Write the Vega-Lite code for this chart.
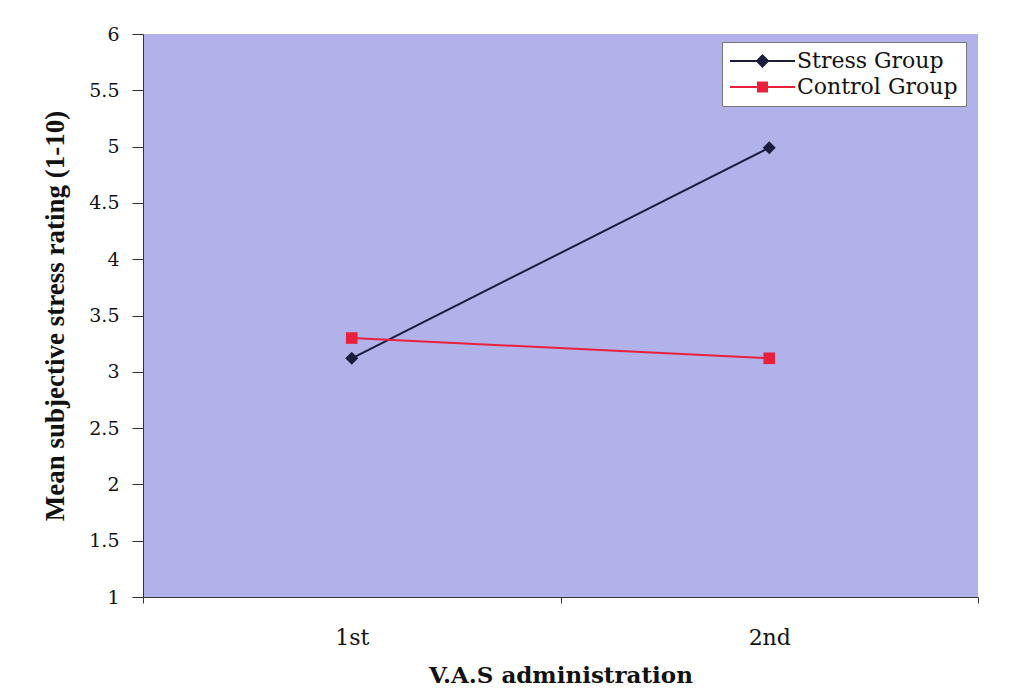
{
  "$schema": "https://vega.github.io/schema/vega-lite/v6.json",
  "width": 835,
  "height": 563,
  "autosize": {"type": "none"},
  "padding": {"left": 143, "top": 34, "right": 34, "bottom": 98},
  "background": "white",
  "config": {
    "font": "Liberation Serif",
    "view": {"fill": "#b1b2ea", "stroke": null}
  },
  "data": {
    "values": [
      {"admin": "1st", "group": "Stress Group", "rating": 3.12},
      {"admin": "2nd", "group": "Stress Group", "rating": 4.99},
      {"admin": "1st", "group": "Control Group", "rating": 3.30},
      {"admin": "2nd", "group": "Control Group", "rating": 3.12}
    ]
  },
  "encoding": {
    "x": {
      "field": "admin",
      "type": "nominal",
      "scale": {"paddingInner": 0, "paddingOuter": 0},
      "axis": {
        "title": "V.A.S administration",
        "titleFont": "DejaVu Serif",
        "titleFontSize": 23,
        "titleFontWeight": "bold",
        "titleColor": "#111",
        "titlePadding": 16,
        "labelFont": "DejaVu Serif",
        "labelFontSize": 22,
        "labelColor": "#111",
        "labelAngle": 0,
        "labelPadding": 24,
        "tickBand": "extent",
        "tickColor": "#333",
        "domainColor": "#333",
        "tickSize": 6,
        "grid": false
      }
    },
    "y": {
      "field": "rating",
      "type": "quantitative",
      "scale": {"domain": [1, 6], "nice": false, "zero": false},
      "axis": {
        "title": "Mean subjective stress rating (1-10)",
        "titleFontSize": 27,
        "titleFontWeight": "bold",
        "titleColor": "#111",
        "titlePadding": 19,
        "labelFont": "DejaVu Serif",
        "labelFontSize": 19,
        "labelColor": "#111",
        "labelPadding": 13,
        "format": "~g",
        "values": [1, 1.5, 2, 2.5, 3, 3.5, 4, 4.5, 5, 5.5, 6],
        "tickColor": "#333",
        "domainColor": "#333",
        "tickSize": 11,
        "grid": false
      }
    }
  },
  "layer": [
    {
      "transform": [{"filter": "datum.rating > 100"}],
      "mark": {"type": "point", "filled": true, "opacity": 1, "strokeWidth": 2},
      "encoding": {
        "color": {
          "field": "group",
          "type": "nominal",
          "scale": {"domain": ["Stress Group", "Control Group"], "range": ["#1c1c3c", "#e8203c"]},
          "legend": {
            "title": null,
            "orient": "none",
            "legendX": 579,
            "legendY": 8,
            "fillColor": "white",
            "strokeColor": "#777",
            "padding": 8,
            "labelFont": "DejaVu Serif",
            "labelFontSize": 22,
            "labelColor": "#111",
            "labelLimit": 300,
            "symbolSize": 400,
            "symbolStrokeWidth": 2,
            "rowPadding": 4,
            "labelOffset": 45
          }
        },
        "stroke": {
          "field": "group",
          "type": "nominal",
          "scale": {"domain": ["Stress Group", "Control Group"], "range": ["#1c1c3c", "#e8203c"]}
        },
        "shape": {
          "field": "group",
          "type": "nominal",
          "scale": {
            "domain": ["Stress Group", "Control Group"],
            "range": [
              "M-1.1,0L5.4,0M2.15,-0.55L2.7,0L2.15,0.55L1.6,0Z",
              "M-1.1,0L5.4,0M1.7,-0.45L2.6,-0.45L2.6,0.45L1.7,0.45Z"
            ]
          }
        }
      }
    },
    {
      "mark": {"type": "line", "strokeWidth": 2},
      "encoding": {
        "stroke": {"field": "group", "type": "nominal"}
      }
    },
    {
      "transform": [{"filter": "datum.group === 'Stress Group'"}],
      "mark": {"type": "point", "shape": "diamond", "filled": true, "opacity": 1, "size": 170},
      "encoding": {
        "color": {"field": "group", "type": "nominal"}
      }
    },
    {
      "transform": [{"filter": "datum.group === 'Control Group'"}],
      "mark": {"type": "point", "shape": "square", "filled": true, "opacity": 1, "size": 135},
      "encoding": {
        "color": {"field": "group", "type": "nominal"}
      }
    }
  ]
}
